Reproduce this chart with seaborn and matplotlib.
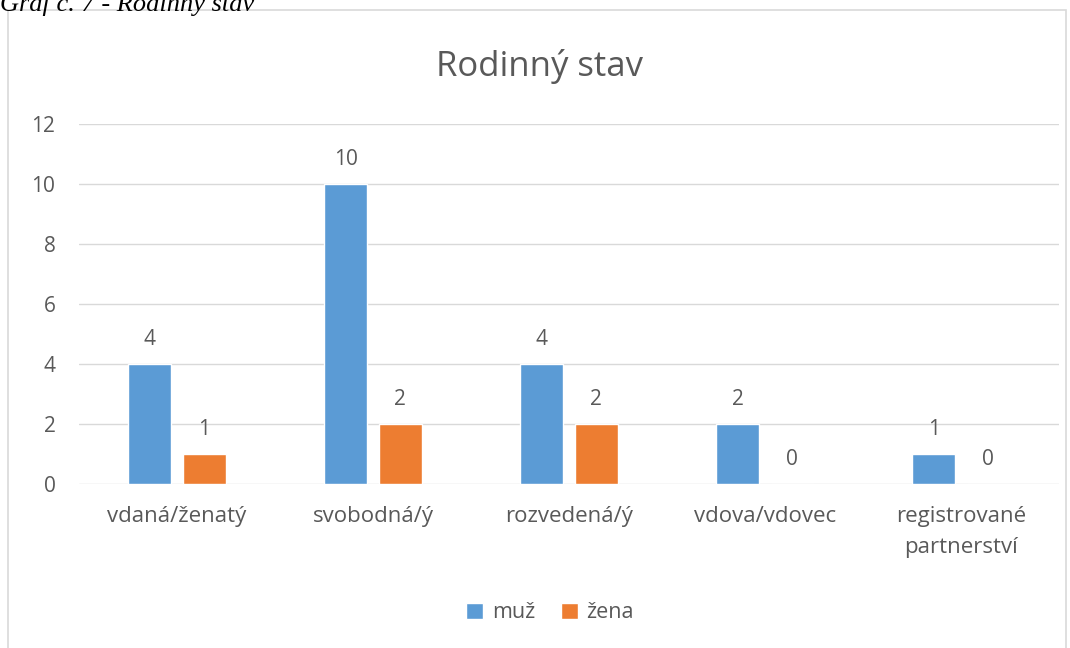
import matplotlib
matplotlib.use('Agg')
import matplotlib.pyplot as plt
import seaborn as sns
import pandas as pd
from matplotlib.patches import Rectangle

categories = ['vdaná/ženatý', 'svobodná/ý', 'rozvedená/ý', 'vdova/vdovec', 'registrované\npartnerství']
muz = [4, 10, 4, 2, 1]
zena = [1, 2, 2, 0, 0]
series = ['muž', 'žena']
colors = ['#5B9BD5', '#ED7D31']

df = pd.DataFrame({
    'cat': categories * 2,
    'val': muz + zena,
    'pohlavi': [series[0]] * len(muz) + [series[1]] * len(zena),
})

sns.set_style('white')
plt.rcParams['font.family'] = ['Open Sans', 'DejaVu Sans']
txt = '#595959'

fig = plt.figure(figsize=(10.7, 6.48), dpi=100)
ax = fig.add_axes([79 / 1070, 164 / 648, 980 / 1070, 360 / 648])

sns.barplot(data=df, x='cat', y='val', hue='pohlavi', palette=colors,
            width=0.556, gap=0.21, ax=ax, saturation=1, errorbar=None)

for cont in ax.containers:
    ax.bar_label(cont, padding=10, fontsize=15, color=txt)

ax.set_ylim(0, 12)
ax.set_xlim(-0.5, 4.5)
ax.set_yticks(range(0, 13, 2))
ax.yaxis.grid(True, color='#D9D9D9', linewidth=1)
ax.set_axisbelow(True)
for s in ax.spines.values():
    s.set_visible(False)
ax.tick_params(axis='y', length=0, pad=17, labelsize=15, labelcolor=txt)
ax.tick_params(axis='x', length=0, pad=16, labelsize=16, labelcolor=txt)
for lab in ax.get_xticklabels():
    lab.set_linespacing(1.6)
ax.set_xlabel('')
ax.set_ylabel('')

handles, labels = ax.get_legend_handles_labels()
ax.get_legend().remove()
fig.legend(handles, labels, loc='center', bbox_to_anchor=(550 / 1070, 1 - 613 / 648),
           ncol=2, frameon=False, fontsize=15.5, labelcolor=txt,
           handlelength=0.8, handleheight=0.8, handletextpad=0.4, columnspacing=1.2)

fig.text(540 / 1070, 1 - 67 / 648, 'Rodinný stav', ha='center', va='center',
         fontsize=25, color=txt)

fig.patches.append(Rectangle((8 / 1070, -0.01), 1058 / 1070, 1 - 10 / 648 + 0.01,
                             transform=fig.transFigure, fill=False,
                             edgecolor='#D9D9D9', linewidth=1.2))

fig.text(0.0, 1 - 11 / 648, 'Graf č. 7 - Rodinný stav', ha='left', va='baseline',
         fontsize=19, style='italic', family='Liberation Serif', color='black')

fig.savefig('out.png', dpi=100, facecolor='white')
